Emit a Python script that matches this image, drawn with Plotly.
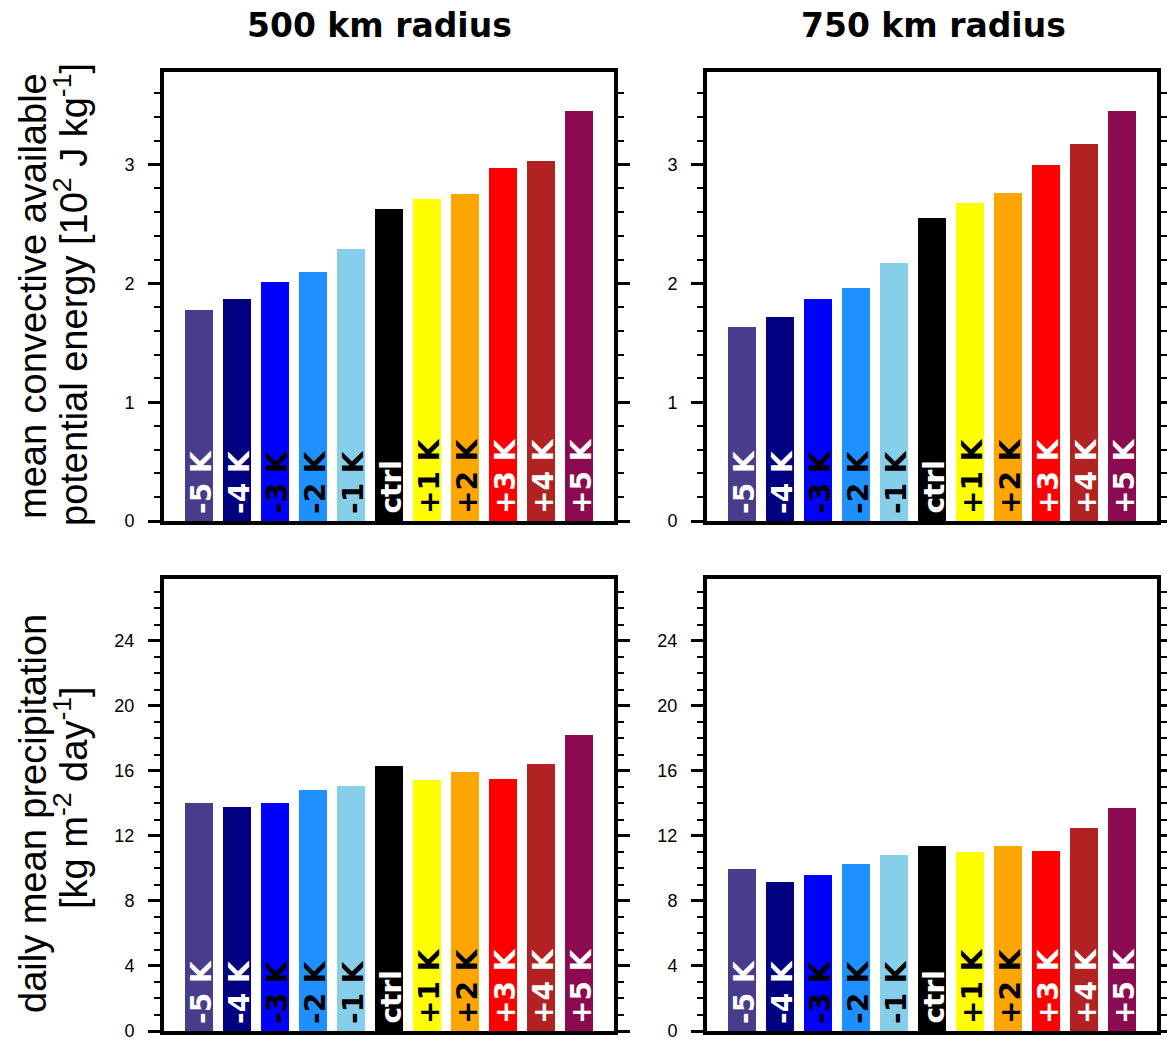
import plotly.graph_objects as go

W, H = 1167, 1041

categories = ["-5 K", "-4 K", "-3 K", "-2 K", "-1 K", "ctrl", "+1 K", "+2 K", "+3 K", "+4 K", "+5 K"]
bar_colors = ["#483D8B", "#000080", "#0000FF", "#1E90FF", "#87CEEB", "#000000",
              "#FFFF00", "#FFA500", "#FF0000", "#B22222", "#8B0A50"]
label_colors = ["white", "white", "black", "black", "black", "white",
                "black", "black", "white", "white", "white"]

cape_500 = [1.78, 1.87, 2.01, 2.10, 2.29, 2.63, 2.71, 2.75, 2.97, 3.03, 3.45]
cape_750 = [1.63, 1.72, 1.87, 1.96, 2.17, 2.55, 2.68, 2.76, 3.00, 3.17, 3.45]
precip_500 = [14.05, 13.8, 14.0, 14.8, 15.05, 16.3, 15.45, 15.9, 15.5, 16.45, 18.2]
precip_750 = [9.95, 9.15, 9.6, 10.25, 10.8, 11.4, 11.0, 11.4, 11.05, 12.5, 13.7]

col_titles = ["500 km radius", "750 km radius"]
ytitle_cape = ["mean convective available", "potential energy [10<sup>2</sup> J kg<sup>-1</sup>]"]
ytitle_prec = ["daily mean precipitation", "[kg m<sup>-2</sup> day<sup>-1</sup>]"]

panels = [
    (cape_500, "x", "y"),
    (cape_750, "x2", "y2"),
    (precip_500, "x3", "y3"),
    (precip_750, "x4", "y4"),
]

xpos = list(range(len(categories)))

fig = go.Figure()
annotations = []
for vals, xa, ya in panels:
    fig.add_trace(go.Bar(
        x=xpos, y=vals, xaxis=xa, yaxis=ya,
        marker=dict(color=bar_colors, line=dict(width=0)),
        width=0.75, showlegend=False, hoverinfo="skip",
    ))
    for i, cat in enumerate(categories):
        annotations.append(dict(
            x=xpos[i], y=0, xref=xa, yref=ya, text=cat, textangle=-90,
            showarrow=False, xanchor="center", yanchor="bottom",
            yshift=5, xshift=2,
            font=dict(family="DejaVu Sans", size=28, color=label_colors[i], weight="bold"),
        ))

def xd(a, b):
    return [a / W, b / W]

def yd(top, bottom):
    return [1 - bottom / H, 1 - top / H]

xdom_left = xd(164, 614)
xdom_right = xd(707, 1157)
ydom_top = yd(72, 521)
ydom_bot = yd(579, 1031)

frame = dict(showline=True, linewidth=4, linecolor="black", mirror=True)

def xaxis(dom, anchor):
    return dict(domain=dom, anchor=anchor, range=[-0.92, 10.92], showticklabels=False,
                ticks="", showgrid=False, zeroline=False, fixedrange=True,
                automargin=False, **frame)

def yaxis(dom, anchor, rng, dtick, mdtick):
    return dict(domain=dom, anchor=anchor, range=rng, dtick=dtick, tick0=0,
                ticks="outside", ticklen=12, tickwidth=3, tickcolor="black",
                minor=dict(dtick=mdtick, tick0=0, ticks="outside", ticklen=6, tickwidth=2,
                           tickcolor="black", showgrid=False),
                showgrid=False, zeroline=False, ticklabelstandoff=10,
                ticklabeloverflow="allow",
                tickfont=dict(family="Liberation Sans", size=18, color="black"),
                fixedrange=True, showline=True, linewidth=4, linecolor="black",
                mirror="allticks", automargin=False)

fig.update_layout(
    width=W, height=H,
    margin=dict(l=0, r=0, t=0, b=0, pad=0, autoexpand=False),
    paper_bgcolor="white", plot_bgcolor="white",
    showlegend=False,
    bargap=0,
    xaxis=xaxis(xdom_left, "y"),
    yaxis=yaxis(ydom_top, "x", [0, 3.78], 1, 0.2),
    xaxis2=xaxis(xdom_right, "y2"),
    yaxis2=yaxis(ydom_top, "x2", [0, 3.78], 1, 0.2),
    xaxis3=xaxis(xdom_left, "y3"),
    yaxis3=yaxis(ydom_bot, "x3", [0, 27.8], 4, 1),
    xaxis4=xaxis(xdom_right, "y4"),
    yaxis4=yaxis(ydom_bot, "x4", [0, 27.8], 4, 1),
)

for t, cx in zip(col_titles, [379, 933]):
    annotations.append(dict(
        x=cx / W, y=1 - 25 / H, xref="paper", yref="paper", text=t, showarrow=False,
        xanchor="center", yanchor="middle",
        font=dict(family="DejaVu Sans", size=33, color="black", weight="bold"),
    ))

for lines, cys in [(ytitle_cape, [296, 295]), (ytitle_prec, [814, 798])]:
    for ln, cx, cy in zip(lines, [33, 71], cys):
        annotations.append(dict(
            x=cx / W, y=1 - cy / H, xref="paper", yref="paper", text=ln, textangle=-90,
            showarrow=False, xanchor="center", yanchor="middle",
            font=dict(family="Liberation Sans", size=38, color="black"),
        ))

fig.update_layout(annotations=annotations)
fig.write_html(
    "out.html",
    post_script=(
        "var gd=document.getElementById('{plot_id}');"
        "gd.style.overflow='hidden';"
        "document.body.style.margin='0';"
        "document.documentElement.style.overflow='hidden';"
        "document.body.style.overflow='hidden';"
    ),
)
